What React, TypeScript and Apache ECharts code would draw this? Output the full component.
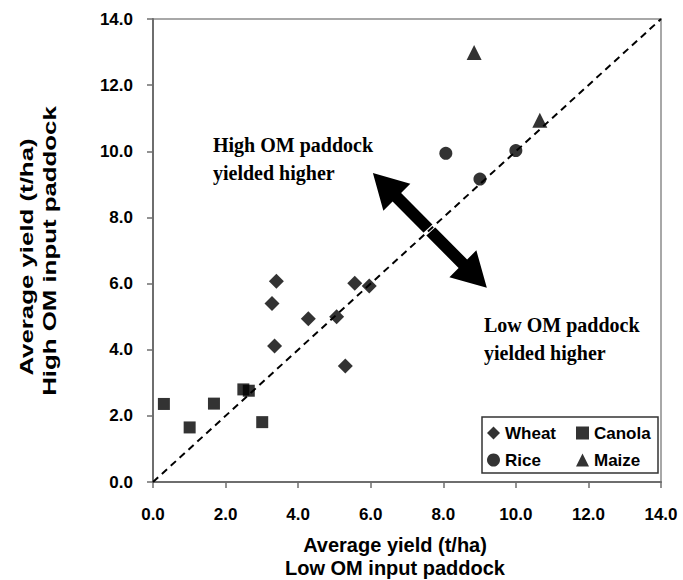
import React, { useEffect, useRef } from "react";
import * as echarts from "echarts";

// Wheat, Canola, Rice, Maize: [low OM yield, high OM yield] (t/ha)
const wheat: number[][] = [
  [3.4, 6.07],
  [3.28, 5.4],
  [3.35, 4.11],
  [4.28, 4.94],
  [5.06, 5.0],
  [5.3, 3.51],
  [5.56, 6.01],
  [5.96, 5.93],
];
const canola: number[][] = [
  [0.3, 2.36],
  [1.01, 1.65],
  [1.68, 2.37],
  [2.49, 2.8],
  [2.64, 2.76],
  [3.01, 1.81],
];
const rice: number[][] = [
  [8.07, 9.94],
  [9.01, 9.16],
  [10.0, 10.02],
];
const maize: number[][] = [
  [8.85, 12.99],
  [10.66, 10.94],
];

const identityLine: number[][] = [
  [0, 0],
  [14, 14],
];
const crossingGap: number[][] = [
  [7.3, 7.3],
  [7.95, 7.95],
];
// double arrow: [x1, y1, x2, y2]
const arrowSegment: number[] = [6.06, 9.34, 9.2, 5.87];

const axisMin = 0;
const axisMax = 14;
const axisStep = 2;

const xTitle = ["Average yield (t/ha)", "Low OM input paddock"];
const yTitle = ["Average yield (t/ha)", "High OM input paddock"];
const noteHigh = "High OM paddock\nyielded higher";
const noteLow = "Low OM paddock\nyielded higher";

export default function App() {
  const ref = useRef<HTMLDivElement>(null);
  useEffect(() => {
    const chart = echarts.init(ref.current!, null, { renderer: "svg" });
    const sans = '"Liberation Sans", Arial, sans-serif';
    const serif = '"Liberation Serif", "Times New Roman", serif';
    const axisColor = "#6e6e6e";
    const labelStyle = {
      color: "#000",
      fontFamily: sans,
      fontWeight: "bold" as const,
      fontSize: 17,
      formatter: (v: number) => v.toFixed(1),
    };
    const legendText = {
      color: "#000",
      fontFamily: sans,
      fontWeight: "bold" as const,
      fontSize: 17,
      lineHeight: 18,
    };
    chart.setOption({
      animation: false,
      backgroundColor: "#fff",
      grid: {
        left: 153,
        top: 19,
        right: 22,
        bottom: 98,
        show: true,
        borderColor: "#a8a8a8",
        borderWidth: 2,
        backgroundColor: "transparent",
      },
      xAxis: {
        type: "value",
        min: axisMin,
        max: axisMax,
        interval: axisStep,
        splitLine: { show: false },
        axisLine: { lineStyle: { color: axisColor, width: 2 } },
        axisTick: { length: 6, lineStyle: { color: axisColor, width: 1.5 } },
        axisLabel: { ...labelStyle, margin: 24 },
      },
      yAxis: {
        type: "value",
        min: axisMin,
        max: axisMax,
        interval: axisStep,
        splitLine: { show: false },
        axisLine: { lineStyle: { color: axisColor, width: 2 } },
        axisTick: { length: 6, lineStyle: { color: axisColor, width: 1.5 } },
        axisLabel: { ...labelStyle, margin: 20 },
      },
      legend: [
        {
          left: 487,
          top: 424,
          orient: "vertical",
          padding: 0,
          itemWidth: 13,
          itemHeight: 13,
          itemGap: 9,
          selectedMode: false,
          data: ["Wheat", "Rice"],
          textStyle: legendText,
        },
        {
          left: 576,
          top: 424,
          orient: "vertical",
          padding: 0,
          itemWidth: 13,
          itemHeight: 13,
          itemGap: 9,
          selectedMode: false,
          data: ["Canola", "Maize"],
          textStyle: legendText,
        },
      ],
      graphic: [
        {
          type: "rect",
          z: 1,
          shape: { x: 482, y: 417, width: 176, height: 56 },
          style: { fill: "#fff", stroke: "#333", lineWidth: 1.5 },
        },
        {
          type: "text",
          x: 213,
          y: 131,
          style: {
            text: noteHigh,
            font: `bold 20px ${serif}`,
            lineHeight: 28,
            fill: "#000",
            textAlign: "left",
            textVerticalAlign: "top",
          },
        },
        {
          type: "text",
          x: 484,
          y: 311,
          style: {
            text: noteLow,
            font: `bold 20px ${serif}`,
            lineHeight: 28,
            fill: "#000",
            textAlign: "left",
            textVerticalAlign: "top",
          },
        },
        {
          type: "text",
          x: 395,
          y: 545,
          style: {
            text: xTitle[0],
            font: `bold 20px ${sans}`,
            fill: "#000",
            textAlign: "center",
            textVerticalAlign: "middle",
          },
        },
        {
          type: "text",
          x: 395,
          y: 568,
          style: {
            text: xTitle[1],
            font: `bold 20px ${sans}`,
            fill: "#000",
            textAlign: "center",
            textVerticalAlign: "middle",
          },
        },
        {
          type: "text",
          x: 26,
          y: 257,
          rotation: Math.PI / 2,
          scaleX: 1.36,
          style: {
            text: yTitle[0],
            font: `bold 19px ${sans}`,
            fill: "#000",
            textAlign: "center",
            textVerticalAlign: "middle",
          },
        },
        {
          type: "text",
          x: 49,
          y: 251,
          rotation: Math.PI / 2,
          scaleX: 1.36,
          style: {
            text: yTitle[1],
            font: `bold 19px ${sans}`,
            fill: "#000",
            textAlign: "center",
            textVerticalAlign: "middle",
          },
        },
      ],
      series: [
        {
          type: "custom",
          name: "arrow",
          silent: true,
          data: [arrowSegment],
          encode: { x: [0, 2], y: [1, 3] },
          renderItem: (_params: any, api: any) => {
            const a = api.coord([api.value(0), api.value(1)]);
            const b = api.coord([api.value(2), api.value(3)]);
            const dx = b[0] - a[0];
            const dy = b[1] - a[1];
            const L = Math.hypot(dx, dy);
            const ux = dx / L;
            const uy = dy / L;
            const nx = -uy;
            const ny = ux;
            const hl = 34;
            const hh = 19;
            const sh = 6;
            const P = (p: number[], t: number, s: number) => [
              p[0] + ux * t + nx * s,
              p[1] + uy * t + ny * s,
            ];
            const points = [
              a,
              P(a, hl, hh),
              P(a, hl, sh),
              P(b, -hl, sh),
              P(b, -hl, hh),
              b,
              P(b, -hl, -hh),
              P(b, -hl, -sh),
              P(a, hl, -sh),
              P(a, hl, -hh),
            ];
            return { type: "polygon", shape: { points }, style: { fill: "#000" } };
          },
        },
        {
          type: "line",
          name: "gap",
          silent: true,
          data: crossingGap,
          symbol: "none",
          lineStyle: { color: "#fff", width: 4 },
        },
        {
          type: "line",
          name: "1:1",
          silent: true,
          data: identityLine,
          symbol: "none",
          lineStyle: { color: "#000", width: 2, type: [7, 5] },
        },
        {
          type: "scatter",
          name: "Wheat",
          data: wheat,
          symbol: "diamond",
          symbolSize: 15,
          itemStyle: { color: "#000" },
        },
        {
          type: "scatter",
          name: "Canola",
          data: canola,
          symbol: "rect",
          symbolSize: 12,
          itemStyle: { color: "#000" },
        },
        {
          type: "scatter",
          name: "Rice",
          data: rice,
          symbol: "circle",
          symbolSize: 13,
          itemStyle: { color: "#000" },
        },
        {
          type: "scatter",
          name: "Maize",
          data: maize,
          symbol: "triangle",
          symbolSize: 15,
          itemStyle: { color: "#000" },
        },
      ],
    });
    return () => chart.dispose();
  }, []);
  return (
    <div
      ref={ref}
      style={{ position: "fixed", left: 0, top: 0, width: 683, height: 580, background: "#fff" }}
    />
  );
}
